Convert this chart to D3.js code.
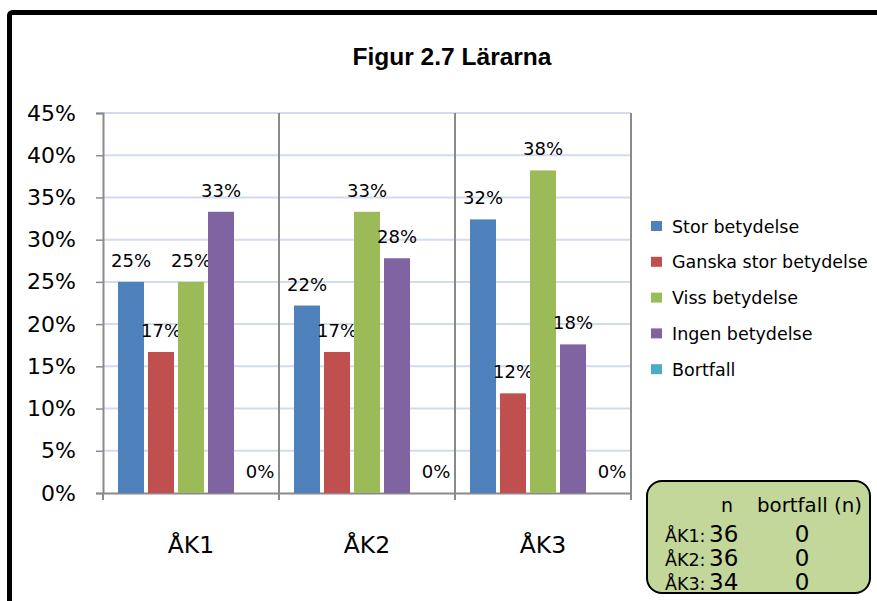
<html lang="sv">
<head>
<meta charset="utf-8">
<title>Figur 2.7 Lärarna</title>
<script src="https://cdn.jsdelivr.net/npm/d3@7"></script>
<style>
  body { margin: 0; background: #fff; }
  text { font-family: "DejaVu Sans", sans-serif; fill: #000; }
</style>
</head>
<body></body>
<script type="text/javascript">

//****************************************************************************************************************************//
// Data

var categories = ["ÅK1", "ÅK2", "ÅK3"];
var seriesNames = ["Stor betydelse", "Ganska stor betydelse", "Viss betydelse", "Ingen betydelse", "Bortfall"];
var seriesColors = ["#4f81bd", "#c0504d", "#9bbb59", "#8064a2", "#4bacc6"];

// share per category, one array per series
var storValues = [0.25, 0.222, 0.324];
var ganskaValues = [0.167, 0.167, 0.118];
var vissValues = [0.25, 0.333, 0.382];
var ingenValues = [0.333, 0.278, 0.176];
var bortfallValues = [0, 0, 0];

var yTicks = [0, 0.05, 0.10, 0.15, 0.20, 0.25, 0.30, 0.35, 0.40, 0.45];

var tableRows = ["ÅK1:", "ÅK2:", "ÅK3:"];
var tableN = [36, 36, 34];
var tableBortfall = [0, 0, 0];

var seriesValues = [storValues, ganskaValues, vissValues, ingenValues, bortfallValues];

//****************************************************************************************************************************//
// Canvas

var width = 877,
    height = 601;

var canvas = d3.select("body")
            .append("svg")
            .attr("width", width)
            .attr("height", height);

canvas.append("rect")
        .attr("width", width)
        .attr("height", height)
        .attr("fill", "white");

// thick frame, only left and top edges show inside the picture
canvas.append("rect")
        .attr("x", 9.5)
        .attr("y", 12.5)
        .attr("width", 900)
        .attr("height", 620)
        .attr("rx", 3)
        .attr("fill", "none")
        .attr("stroke", "black")
        .attr("stroke-width", 5);

canvas.append("text")
        .attr("x", 452)
        .attr("y", 65)
        .attr("text-anchor", "middle")
        .style("font-family", "'Liberation Sans', Arial, sans-serif")
        .style("font-weight", "bold")
        .style("font-size", "24.5px")
        .attr("textLength", 199)
        .attr("lengthAdjust", "spacingAndGlyphs")
        .text("Figur 2.7 Lärarna");

//****************************************************************************************************************************//
// Scales

var plot = {left : 103, right : 631, top : 113, bottom : 493};

var x0 = d3.scaleBand()
            .domain(categories)
            .range([plot.left, plot.right]);

var x1 = d3.scaleBand()
            .domain(seriesNames)
            .range([13, x0.bandwidth() - 13]);

var y = d3.scaleLinear()
            .domain([0, 0.45])
            .range([plot.bottom, plot.top]);

var pct = d3.format(".0%");

//****************************************************************************************************************************//
// Grid and axes

canvas.append("g")
        .selectAll("line")
        .data(yTicks.slice(1))
        .join("line")
        .attr("x1", plot.left)
        .attr("x2", plot.right)
        .attr("y1", function(d){ return y(d); })
        .attr("y2", function(d){ return y(d); })
        .attr("stroke", "#d3dcec")
        .attr("stroke-width", 2);

// category separators
canvas.append("g")
        .selectAll("line")
        .data(categories)
        .join("line")
        .attr("x1", function(d){ return x0(d) + x0.bandwidth(); })
        .attr("x2", function(d){ return x0(d) + x0.bandwidth(); })
        .attr("y1", plot.top)
        .attr("y2", plot.bottom + 7)
        .attr("stroke", "#8a8a8a")
        .attr("stroke-width", 2);

var yAxis = canvas.append("g")
        .attr("transform", "translate(" + plot.left + ",0)")
        .call(d3.axisLeft(y).tickValues(yTicks).tickFormat(pct).tickSize(7).tickPadding(20));

yAxis.select(".domain").attr("stroke", "#8a8a8a").attr("stroke-width", 2);
yAxis.selectAll(".tick line").attr("stroke", "#8a8a8a").attr("stroke-width", 1.5);
yAxis.selectAll(".tick text")
        .style("font-family", "'DejaVu Sans', sans-serif")
        .style("font-size", "22px")
        .attr("fill", "black");

var xAxis = canvas.append("g")
        .attr("transform", "translate(0," + plot.bottom + ")")
        .call(d3.axisBottom(x0).tickSize(0).tickPadding(43));

xAxis.select(".domain").attr("stroke", "#8a8a8a").attr("stroke-width", 2);
xAxis.selectAll(".tick text")
        .style("font-family", "'DejaVu Sans', sans-serif")
        .style("font-size", "23.5px")
        .attr("fill", "black");

canvas.append("line")
        .attr("x1", plot.left)
        .attr("x2", plot.left)
        .attr("y1", plot.bottom)
        .attr("y2", plot.bottom + 7)
        .attr("stroke", "#8a8a8a")
        .attr("stroke-width", 2);

//****************************************************************************************************************************//
// Bars and labels

var groups = canvas.append("g")
        .selectAll("g")
        .data(categories)
        .join("g")
        .attr("transform", function(d){ return "translate(" + x0(d) + ",0)"; });

var cells = groups.selectAll("g")
        .data(function(d, i){
            return seriesNames.map(function(s, j){ return {series : s, value : seriesValues[j][i], color : seriesColors[j]}; });
        })
        .join("g");

cells.append("rect")
        .attr("x", function(d){ return x1(d.series) + 2; })
        .attr("y", function(d){ return y(d.value); })
        .attr("width", x1.bandwidth() - 4)
        .attr("height", function(d){ return plot.bottom - y(d.value); })
        .attr("fill", function(d){ return d.color; });

cells.append("text")
        .attr("x", function(d){ return x1(d.series) + x1.bandwidth() / 2 + (d.value === 0 ? 9 : 0); })
        .attr("y", function(d){ return y(d.value) - 15; })
        .attr("text-anchor", "middle")
        .style("font-size", "18px")
        .text(function(d){ return pct(d.value); });

//****************************************************************************************************************************//
// Legend

var legend = canvas.append("g")
        .attr("transform", "translate(651,226)");

var legendItems = legend.selectAll("g")
        .data(seriesNames)
        .join("g")
        .attr("transform", function(d, i){ return "translate(0," + (i * 35.8) + ")"; });

legendItems.append("rect")
        .attr("x", 0)
        .attr("y", -5)
        .attr("width", 11)
        .attr("height", 10)
        .attr("fill", function(d, i){ return seriesColors[i]; });

legendItems.append("text")
        .attr("x", 21)
        .attr("y", 6.5)
        .style("font-size", "17.5px")
        .text(function(d){ return d; });

//****************************************************************************************************************************//
// n table

var table = canvas.append("g");

table.append("rect")
        .attr("x", 647)
        .attr("y", 481)
        .attr("width", 223)
        .attr("height", 112)
        .attr("rx", 15)
        .attr("ry", 15)
        .attr("fill", "#c4d79b")
        .attr("stroke", "black")
        .attr("stroke-width", 2);

table.append("text")
        .attr("x", 727)
        .attr("y", 512)
        .attr("text-anchor", "middle")
        .style("font-size", "19px")
        .text("n");

table.append("text")
        .attr("x", 757)
        .attr("y", 512)
        .attr("textLength", 105)
        .attr("lengthAdjust", "spacingAndGlyphs")
        .style("font-size", "19.5px")
        .text("bortfall (n)");

var tableLines = table.selectAll("g")
        .data(tableRows)
        .join("g")
        .attr("transform", function(d, i){ return "translate(0," + (542 + i * 24) + ")"; });

tableLines.append("text")
        .attr("x", 665)
        .style("font-size", "17.5px")
        .text(function(d){ return d; });

tableLines.append("text")
        .attr("x", 709)
        .style("font-size", "23px")
        .text(function(d, i){ return tableN[i]; });

tableLines.append("text")
        .attr("x", 802)
        .attr("text-anchor", "middle")
        .style("font-size", "23px")
        .text(function(d, i){ return tableBortfall[i]; });

</script>
</html>
